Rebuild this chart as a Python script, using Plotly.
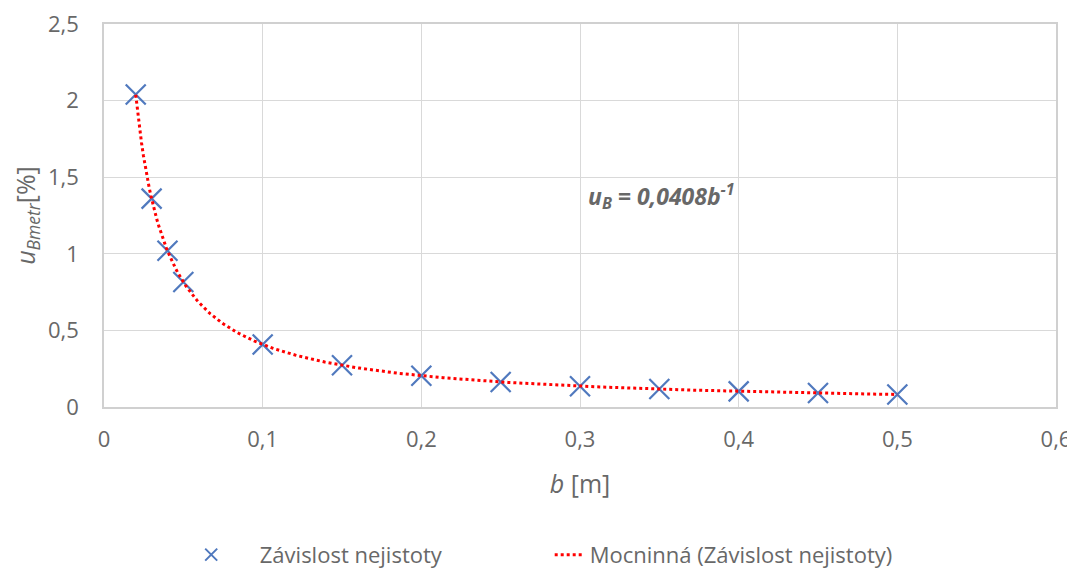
import numpy as np
import plotly.graph_objects as go

b_vals = [0.02, 0.03, 0.04, 0.05, 0.10, 0.15, 0.20, 0.25, 0.30, 0.35, 0.40, 0.45, 0.50]
u_vals = [2.04, 1.36, 1.02, 0.816, 0.408, 0.272, 0.204, 0.163, 0.136, 0.117, 0.102, 0.091, 0.082]
x_ticks = [0, 0.1, 0.2, 0.3, 0.4, 0.5, 0.6]
y_ticks = [0, 0.5, 1, 1.5, 2, 2.5]

# power trendline fitted to the data (log-log least squares)
k, logc = np.polyfit(np.log(b_vals), np.log(u_vals), 1)
xf = np.linspace(min(b_vals), max(b_vals), 400)
yf = np.exp(logc) * xf ** k

grey = "#686868"
font = "Open Sans"
blue = "#5079BE"
nb = "\u00a0"

fig = go.Figure()
fig.add_trace(go.Scatter(
    x=b_vals, y=u_vals, mode="markers", showlegend=False,
    marker=dict(symbol="x-thin", size=20, line=dict(width=2.2, color=blue), color=blue),
))
fig.add_trace(go.Scatter(
    x=xf, y=yf, mode="lines", showlegend=False,
    line=dict(color="#FF0000", width=3, dash="dot"),
))
# legend entries
fig.add_trace(go.Scatter(
    x=[None], y=[None], mode="markers", name=nb * 5 + "Závislost nejistoty" + nb * 18,
    marker=dict(symbol="x-thin", size=12, line=dict(width=2, color=blue), color=blue),
))
fig.add_trace(go.Scatter(
    x=[None], y=[None], mode="lines", name="Mocninná (Závislost nejistoty)",
    line=dict(color="#FF0000", width=3, dash="dot"),
))

fig.add_annotation(
    x=0.304, y=1.38, xanchor="left", yanchor="middle", showarrow=False,
    text="<b><i>u<sub>B</sub> = 0,0408b<sup>-1</sup></i></b>",
    font=dict(family=font, size=23, color=grey),
)

fig.update_layout(
    width=1067, height=562,
    margin=dict(l=96, r=19, t=16, b=163),
    paper_bgcolor="white", plot_bgcolor="white",
    separators=", ",
    font=dict(family=font, color=grey, size=22),
    showlegend=True,
    legend=dict(orientation="h", xref="container", yref="container",
                x=0.503, xanchor="center", y=0.027, yanchor="middle",
                font=dict(size=22, color=grey), itemwidth=30, tracegroupgap=0),
)
fig.update_xaxes(
    range=[0, 0.6], tickvals=x_ticks, showgrid=True, gridcolor="#D9D9D9", gridwidth=1.3,
    showline=True, mirror=True, linecolor="#D0D0D0", linewidth=1.5, zeroline=False, ticks="",
    automargin=False, ticklabelstandoff=12, ticklabeloverflow="allow",
    tickfont=dict(size=22, color=grey),
    title=dict(text="<i>b</i> [m]", font=dict(size=25, color=grey), standoff=23),
)
fig.update_yaxes(
    range=[0, 2.5], tickvals=y_ticks, showgrid=True, gridcolor="#D9D9D9", gridwidth=1.3,
    showline=True, mirror=True, linecolor="#D0D0D0", linewidth=1.5, zeroline=False, ticks="",
    automargin=False, ticklabelstandoff=19, ticklabeloverflow="allow",
    tickfont=dict(size=22, color=grey),
    title=dict(text="<i>u<sub>Bmetr</sub></i>[%]", font=dict(size=25, color=grey), standoff=7),
)

fig.write_html("out.html")
